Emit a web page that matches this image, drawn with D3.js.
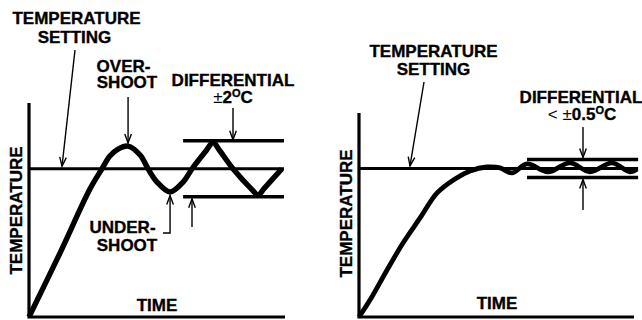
<!DOCTYPE html>
<html>
<head>
<meta charset="utf-8">
<script src="https://cdn.jsdelivr.net/npm/d3@7"></script>
<style>
  html, body { margin: 0; padding: 0; background: #fff; }
  svg { display: block; }
  text { font-family: "Liberation Sans", Arial, Helvetica, sans-serif; font-weight: bold; font-size: 17px; fill: #000; stroke: #000; stroke-width: 0.35px; }
</style>
</head>
<body>
<svg id="chart" width="642" height="320"></svg>
<script>
// On/off control: time (0-100) vs. deviation from the setpoint (°C)
const onOffTime = [0, 12.1, 23.8, 28.5, 31.6, 34.8, 38.7, 43.4, 46.5, 50.0, 55.1, 60.2, 63.7, 69.1, 71.9, 74.6, 79.7, 87.1, 89.5, 91.8, 98.8];
const onOffTemp = [-10.6, -6.03, -1.45, 0, 0.91, 1.41, 1.62, 0.98, 0, -0.95, -1.66, -0.95, 0, 1.27, 1.88, 1.27, 0, -1.49, -1.88, -1.42, 0];

// Proportional control: time (0-100) vs. deviation from the setpoint (°C)
const propTime = [0, 4.0, 10.2, 16.0, 22.2, 28.4, 34.9, 40.4, 46.5, 51.3, 55.6, 61.1, 68.7, 76.7, 84.0, 92.0, 98.5, 101.1];
const propTemp = [-8.25, -7.31, -5.64, -4.14, -2.75, -1.36, -0.58, -0.14, 0.08, 0.03, -0.25, 0.25, -0.19, 0.31, -0.19, 0.31, -0.19, -0.03];

// Differential bands (± °C) and the time span they are drawn over
const onOffBand = [-2, 2];
const onOffBandSpan = [60.2, 99.6];
const propBand = [-0.5, 0.5];
const propBandSpan = [61.1, 101.5];

const svg = d3.select("#chart");

// Panel scales
const xL = d3.scaleLinear().domain([0, 100]).range([29, 285]);
const yL = d3.scaleLinear().domain([-10.6, 4.7]).range([317, 103]);
const xR = d3.scaleLinear().domain([0, 100]).range([359, 634]);
const yR = d3.scaleLinear().domain([-8.25, 3.08]).range([317, 113]);

function arrowHead(g, tx, ty, fx, fy) {
  // open "V" head at (tx,ty), shaft coming from (fx,fy)
  const a = Math.atan2(ty - fy, tx - fx);
  const len = 9, half = 3.3;
  const bx = tx - len * Math.cos(a), by = ty - len * Math.sin(a);
  const px = -Math.sin(a) * half, py = Math.cos(a) * half;
  g.append("path")
    .attr("d", `M${bx + px},${by + py}L${tx},${ty}L${bx - px},${by - py}`)
    .attr("fill", "none").attr("stroke", "#000").attr("stroke-width", 1.4)
    .attr("stroke-linejoin", "miter");
}

function arrow(g, fx, fy, tx, ty) {
  g.append("line").attr("x1", fx).attr("y1", fy).attr("x2", tx).attr("y2", ty)
    .attr("stroke", "#000").attr("stroke-width", 1.4);
  arrowHead(g, tx, ty, fx, fy);
}

function hline(g, x1, x2, y, w) {
  g.append("line").attr("x1", x1).attr("x2", x2).attr("y1", y).attr("y2", y)
    .attr("stroke", "#000").attr("stroke-width", w);
}

function panel(x, y, time, temp, band, bandSpan, setEnd, curveW) {
  const g = svg.append("g");
  const [x0, x1] = x.domain();
  const [y0, y1] = y.domain();
  // axes
  g.append("path")
    .attr("d", `M${x(x0)},${y(y1)}V${y(y0)}H${x(x1)}`)
    .attr("fill", "none").attr("stroke", "#000").attr("stroke-width", 3.2)
    .attr("stroke-linejoin", "miter");
  // setpoint
  hline(g, x(x0), x(setEnd), y(0), 3);
  // differential band
  band.forEach(b => hline(g, x(bandSpan[0]), x(bandSpan[1]), y(b), 3.4));
  // temperature trace
  const line = d3.line()
    .x((d, i) => x(time[i]))
    .y(d => y(d))
    .curve(d3.curveCatmullRom.alpha(0.5));
  g.append("path")
    .attr("d", line(temp))
    .attr("fill", "none").attr("stroke", "#000").attr("stroke-width", curveW)
    .attr("stroke-linecap", "butt").attr("stroke-linejoin", "round");
  return g;
}

const gL = panel(xL, yL, onOffTime, onOffTemp, onOffBand, onOffBandSpan, 99.6, 5.4);
const gR = panel(xR, yR, propTime, propTemp, propBand, propBandSpan, 101.5, 4.8);

function label(g, x, y, lines, lh) {
  const t = g.append("text").attr("text-anchor", "middle");
  lines.forEach((s, i) => {
    t.append("tspan").attr("x", x[i]).attr("y", y + i * lh).text(s);
  });
  return t;
}

// ---- left panel annotations ----
label(gL, [76.5, 74.5], 24, ["TEMPERATURE", "SETTING"], 19);
arrow(gL, 75, 50, 62, yL(0) - 2.5);

label(gL, [123.5, 127], 72, ["OVER-", "SHOOT"], 16);
const pk1 = onOffTemp.indexOf(d3.max(onOffTemp.slice(0, 10)));
arrow(gL, xL(onOffTime[pk1]), 97, xL(onOffTime[pk1]), yL(onOffTemp[pk1]) - 3);

gL.append("text").attr("x", 233).attr("y", 86).attr("text-anchor", "middle").text("DIFFERENTIAL");
const d1 = gL.append("text").attr("x", 233).attr("y", 103).attr("text-anchor", "middle");
d1.append("tspan").attr("font-weight", "normal").attr("stroke-width", 0).text("±");
d1.append("tspan").text("2");
d1.append("tspan").attr("font-size", "11px").attr("dy", -6).text("O");
d1.append("tspan").attr("dy", 6).text("C");
arrow(gL, 233, 108, 233, yL(onOffBand[1]) - 1);

label(gL, [122.5, 127], 233, ["UNDER-", "SHOOT"], 18);
const tr1 = onOffTemp.indexOf(d3.min(onOffTemp.slice(5, 13)));
gL.append("path")
  .attr("d", `M163,233H${xL(onOffTime[tr1])}V${yL(onOffTemp[tr1]) + 3.5}`)
  .attr("fill", "none").attr("stroke", "#000").attr("stroke-width", 1.4);
arrowHead(gL, xL(onOffTime[tr1]), yL(onOffTemp[tr1]) + 3.5, xL(onOffTime[tr1]), 233);
arrow(gL, 192, 227, 192, yL(onOffBand[0]) + 2);

gL.append("text").attr("x", 157).attr("y", 311).attr("text-anchor", "middle").text("TIME");
gL.append("text").attr("transform", "translate(22,210.5) rotate(-90)")
  .attr("text-anchor", "middle").text("TEMPERATURE");

// ---- right panel annotations ----
label(gR, [433.5, 433.5], 57, ["TEMPERATURE", "SETTING"], 18);
arrow(gR, 424, 82, 410, yR(0) - 2.5);

gR.append("text").attr("x", 581).attr("y", 103).attr("text-anchor", "middle").text("DIFFERENTIAL");
const d2 = gR.append("text").attr("x", 582).attr("y", 120).attr("text-anchor", "middle");
d2.append("tspan").attr("font-weight", "normal").attr("stroke-width", 0).text("< ±");
d2.append("tspan").text("0.5");
d2.append("tspan").attr("font-size", "11px").attr("dy", -6).text("O");
d2.append("tspan").attr("dy", 6).text("C");
arrow(gR, 583, 127, 583, yR(propBand[1]) - 2);
arrow(gR, 583, 210, 583, yR(propBand[0]) + 2);

gR.append("text").attr("x", 497).attr("y", 309).attr("text-anchor", "middle").text("TIME");
gR.append("text").attr("transform", "translate(352,213.5) rotate(-90)")
  .attr("text-anchor", "middle").text("TEMPERATURE");
</script>
</body>
</html>
